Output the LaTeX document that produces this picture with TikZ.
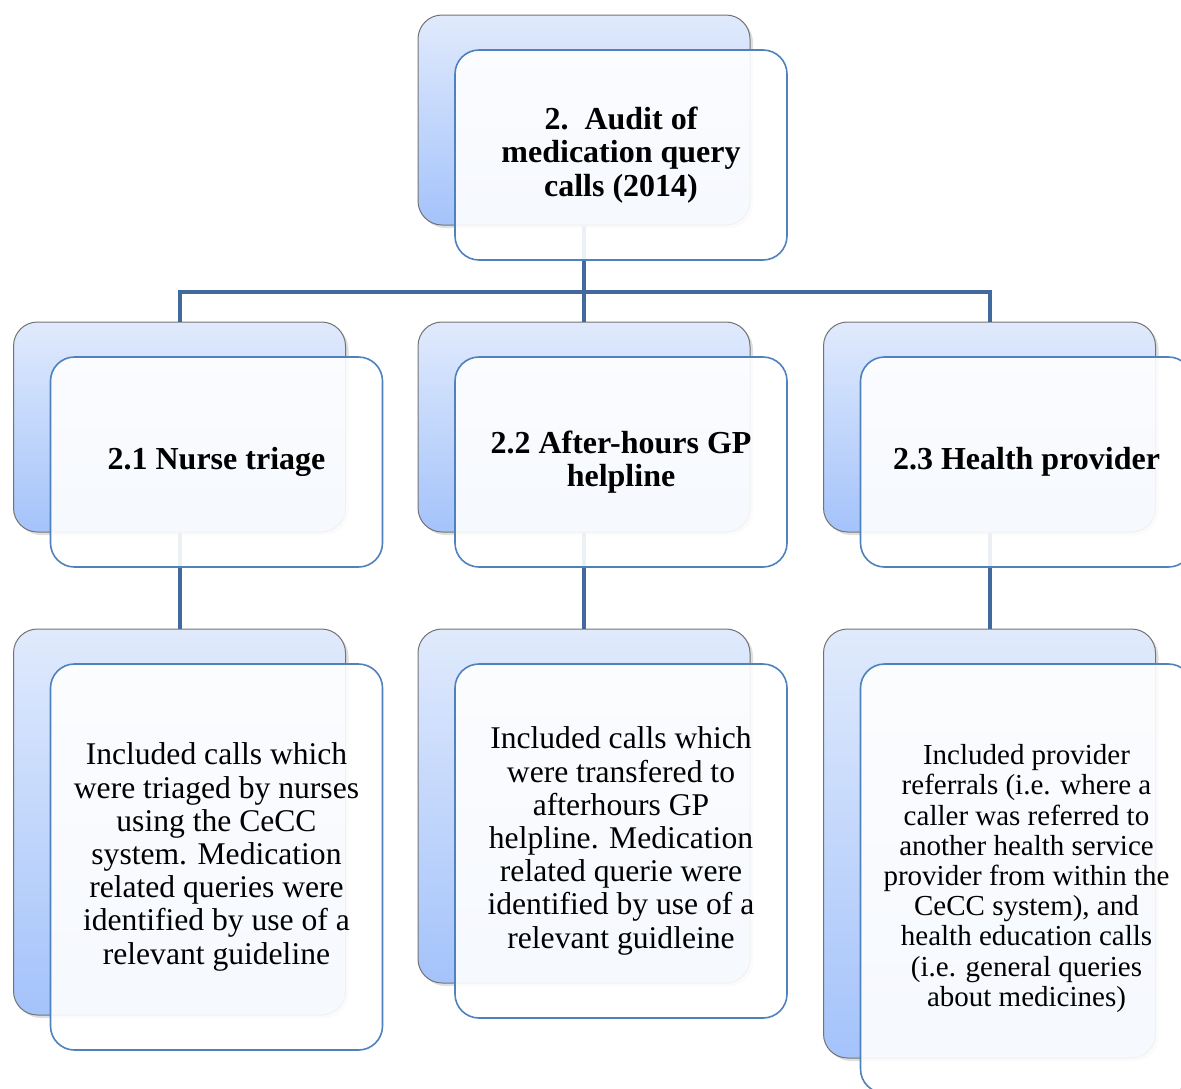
\documentclass[tikz,border=0pt]{standalone}
\usepackage{fontspec}
\setmainfont{Liberation Serif}
\usetikzlibrary{shadows,positioning,calc}

\definecolor{boxtop}{HTML}{E0EAFC}
\definecolor{boxbottom}{HTML}{A4C3FB}
\definecolor{frontline}{HTML}{4F81BD}
\definecolor{linkline}{HTML}{41699D}

\tikzset{
  backbox/.style={draw=black!55, line width=0.5pt, rounded corners=12pt,
    top color=boxtop, bottom color=boxbottom, minimum width=166pt,
    drop shadow={shadow xshift=1.5pt, shadow yshift=-1.5pt, opacity=0.25}},
  frontbox/.style={draw=frontline, line width=0.8pt, rounded corners=12pt,
    fill=white, fill opacity=0.9, text opacity=1, minimum width=166pt,
    align=center, font=\fontsize{15.8}{16.6}\selectfont},
  titlebox/.style={frontbox, font=\fontsize{16}{16.8}\selectfont\bfseries},
  link/.style={draw=linkline, line width=2pt}
}

\begin{document}
\begin{tikzpicture}[x=0.5pt,y=-0.5pt]
  \useasboundingbox (0,0) rectangle (1181,1088);
  \clip (0,0) rectangle (1181,1088);

  % back boxes
  \node[backbox, minimum height=105pt] (top) at (584,120) {};
  \node[backbox, minimum height=105pt] (nurse) at (179.5,427) {};
  \node[backbox, minimum height=105pt] (gp) at (584,427) {};
  \node[backbox, minimum height=105pt] (prov) at (989.5,427) {};
  \node[backbox, minimum height=193pt] (nursedesc) at (179.5,822) {};
  \node[backbox, minimum height=177pt] (gpdesc) at (584,806) {};
  \node[backbox, minimum height=214.5pt] (provdesc) at (989.5,843.5) {};

  % connectors
  \coordinate (bus) at (584,292);
  \draw[link] (top.south) -- (bus);
  \draw[link] (nurse.north) |- (bus) -| (prov.north);
  \draw[link] (gp.north) -- (bus);
  \draw[link] (nurse.south) -- (nursedesc.north);
  \draw[link] (gp.south) -- (gpdesc.north);
  \draw[link] (prov.south) -- (provdesc.north);

  % front boxes
  \node[titlebox, minimum height=105pt] (topf) at ($(top)+(37,35)$)
    {2.\ \ Audit of\\ medication query\\ calls (2014)};
  \node[titlebox, minimum height=105pt] (nursef) at ($(nurse)+(37,35)$)
    {2.1 Nurse triage};
  \node[titlebox, minimum height=105pt] (gpf) at ($(gp)+(37,35)$)
    {2.2 After-hours GP\\ helpline};
  \node[titlebox, minimum height=105pt] (provf) at ($(prov)+(37,35)$)
    {2.3 Health provider};
  \node[frontbox, minimum height=193pt] (nursedescf) at ($(nursedesc)+(37,35)$)
    {Included calls which\\ were triaged by nurses\\ using the CeCC\\ system. Medication\\
     related queries were\\ identified by use of a\\ relevant guideline};
  \node[frontbox, minimum height=177pt] (gpdescf) at ($(gpdesc)+(37,35)$)
    {Included calls which\\ were transfered to\\ afterhours GP\\ helpline. Medication\\
     related querie were\\ identified by use of a\\ relevant guidleine};
  \node[frontbox, minimum height=214.5pt, font=\fontsize{14.5}{15.1}\selectfont] (provdescf) at ($(provdesc)+(37,35)$)
    {Included provider\\ referrals (i.e. where a\\ caller was referred to\\ another health service\\
     provider from within the\\ CeCC system), and\\ health education calls\\ (i.e. general queries\\ about medicines)};

\end{tikzpicture}
\end{document}
